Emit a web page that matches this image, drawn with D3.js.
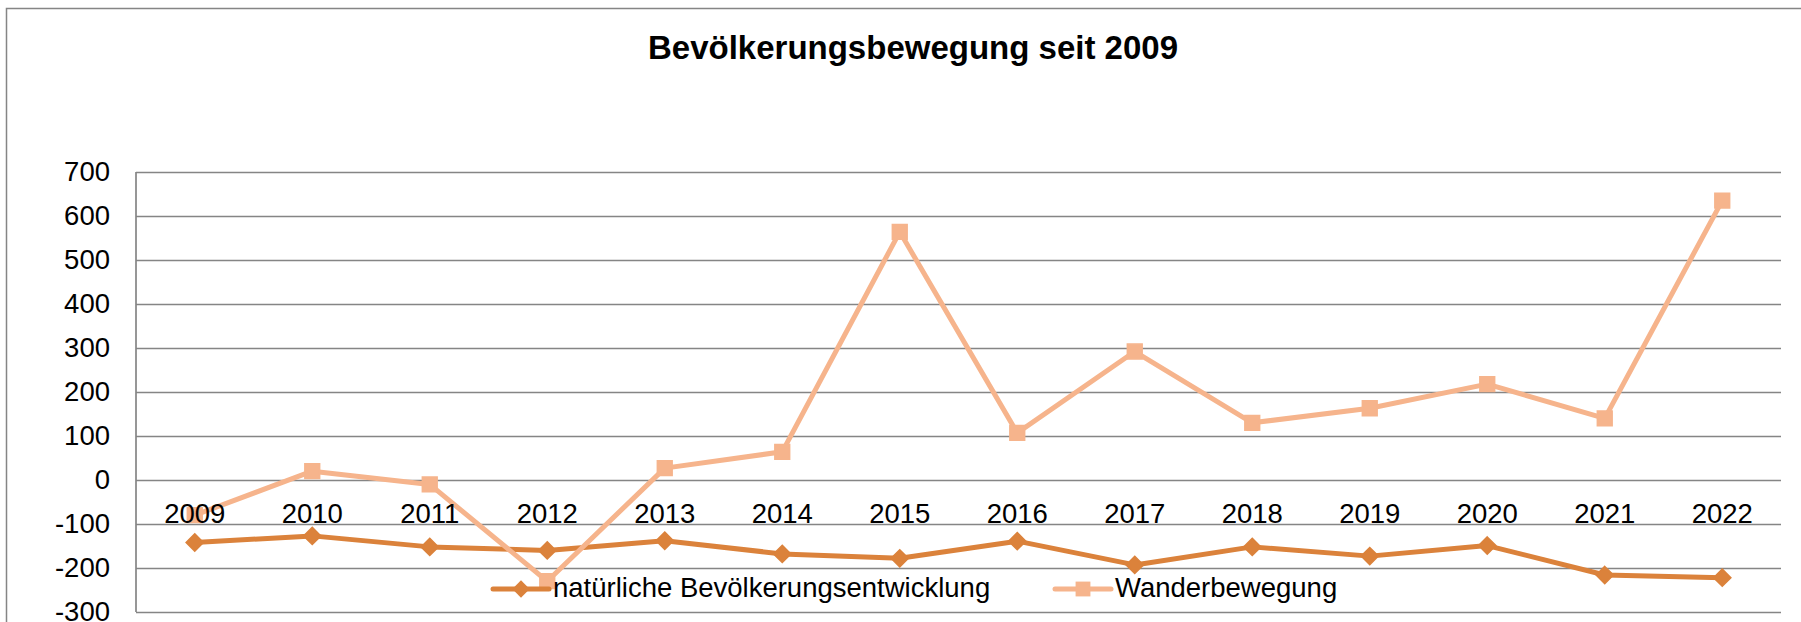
<!DOCTYPE html>
<html>
<head>
<meta charset="utf-8">
<script src="https://cdn.jsdelivr.net/npm/d3@7"></script>
<style>
  body { margin: 0; background: #fff; }
  svg { display: block; font-family: "Liberation Sans", Arial, sans-serif; }
</style>
</head>
<body>
<div id="chart"></div>
<script>
// Data
const years = ["2009", "2010", "2011", "2012", "2013", "2014", "2015", "2016", "2017", "2018", "2019", "2020", "2021", "2022"];
const natuerlich = [-142, -127, -152, -160, -138, -168, -178, -139, -193, -152, -173, -149, -216, -222];
const wanderung = [-80, 20, -10, -230, 27, 64, 564, 107, 292, 130, 163, 218, 140, 635];
const yTicks = [-300, -200, -100, 0, 100, 200, 300, 400, 500, 600, 700];
const seriesNames = ["natürliche Bevölkerungsentwicklung", "Wanderbewegung"];

const drawChart = () => {

  /*******************************/
  /*    Declare the constants    */
  /*******************************/
  const width = 1801;
  const height = 622;
  const plot = {left: 136, right: 1781, top: 172, bottom: 612};
  const gridColor = "#858585";
  const darkOrange = "#db823b";
  const lightOrange = "#f6b48c";

  const svg = d3.select("#chart")
    .append("svg")
      .attr("width", width)
      .attr("height", height)
      .attr("viewBox", `0 0 ${width} ${height}`);

  // Outer chart border (right and bottom edges run off the page)
  svg.append("rect")
    .attr("x", 6.5)
    .attr("y", 8.5)
    .attr("width", width + 10)
    .attr("height", height + 10)
    .attr("fill", "white")
    .attr("stroke", gridColor)
    .attr("stroke-width", 1.5);

  /****************************/
  /*    Declare the scales    */
  /****************************/
  const xScale = d3.scalePoint()
    .domain(years)
    .range([plot.left, plot.right])
    .padding(0.5);

  const yScale = d3.scaleLinear()
    .domain([-300, 700])
    .range([plot.bottom, plot.top]);

  // Title
  svg.append("text")
    .text("Bevölkerungsbewegung seit 2009")
    .attr("x", 913)
    .attr("y", 59)
    .attr("text-anchor", "middle")
    .attr("font-weight", "bold")
    .style("font-size", "33px");

  // Gridlines + y axis labels
  const leftAxis = d3.axisLeft(yScale)
    .tickValues(yTicks)
    .tickSize(-(plot.right - plot.left))
    .tickPadding(26)
    .tickFormat(d => d);

  const yAxis = svg.append("g")
    .attr("class", "axis-left")
    .attr("transform", `translate(${plot.left}, 0)`)
    .call(leftAxis);
  yAxis.select(".domain").remove();
  yAxis.selectAll(".tick line")
    .attr("stroke", gridColor)
    .attr("stroke-width", 1.7);
  yAxis.selectAll(".tick text")
    .attr("fill", "#000")
    .style("font-family", "'Liberation Sans', Arial, sans-serif")
    .style("font-size", "27.5px");

  // Vertical axis line
  svg.append("line")
    .attr("x1", plot.left)
    .attr("x2", plot.left)
    .attr("y1", plot.top)
    .attr("y2", plot.bottom)
    .attr("stroke", gridColor)
    .attr("stroke-width", 1.7);

  /********************************/
  /*    Append the line series    */
  /********************************/
  const lineGenerator = (values) => d3.line()
    .x((d, i) => xScale(years[i]))
    .y(d => yScale(d))(values);

  const diamond = d3.symbol().type(d3.symbolDiamond2).size(190);
  const square = d3.symbol().type(d3.symbolSquare2).size(280);

  // natürliche Bevölkerungsentwicklung
  svg.append("path")
    .attr("d", lineGenerator(natuerlich))
    .attr("fill", "none")
    .attr("stroke", darkOrange)
    .attr("stroke-width", 5)
    .attr("stroke-linejoin", "round");

  svg.append("g")
    .selectAll("path")
    .data(natuerlich)
    .join("path")
      .attr("d", diamond)
      .attr("transform", (d, i) => `translate(${xScale(years[i])}, ${yScale(d)})`)
      .attr("fill", darkOrange)
      .attr("stroke", darkOrange)
      .attr("stroke-width", 1.5);

  // Wanderbewegung
  svg.append("path")
    .attr("d", lineGenerator(wanderung))
    .attr("fill", "none")
    .attr("stroke", lightOrange)
    .attr("stroke-width", 5)
    .attr("stroke-linejoin", "round");

  svg.append("g")
    .selectAll("path")
    .data(wanderung)
    .join("path")
      .attr("d", square)
      .attr("transform", (d, i) => `translate(${xScale(years[i])}, ${yScale(d)})`)
      .attr("fill", lightOrange)
      .attr("stroke", lightOrange)
      .attr("stroke-width", 1.5);

  // Category labels sit just under the zero line
  svg.append("g")
    .selectAll("text")
    .data(years)
    .join("text")
      .text(d => d)
      .attr("x", d => xScale(d))
      .attr("y", 523)
      .attr("text-anchor", "middle")
      .style("font-size", "27.5px");

  /*************************/
  /*    Append the legend  */
  /*************************/
  const legendItems = [
    {name: seriesNames[0], color: darkOrange, symbol: diamond, x: 493},
    {name: seriesNames[1], color: lightOrange, symbol: square, x: 1055}
  ];
  const legendY = 589;

  legendItems.forEach(item => {
    const g = svg.append("g")
      .attr("transform", `translate(${item.x}, ${legendY})`);
    g.append("line")
      .attr("x1", 0)
      .attr("x2", 56)
      .attr("stroke", item.color)
      .attr("stroke-width", 5)
      .attr("stroke-linecap", "round");
    g.append("path")
      .attr("d", item.symbol)
      .attr("transform", "translate(28, 0)")
      .attr("fill", item.color);
    g.append("text")
      .text(item.name)
      .attr("x", 60)
      .attr("y", 8)
      .style("font-size", "27.5px");
  });

};

drawChart();
</script>
</body>
</html>
